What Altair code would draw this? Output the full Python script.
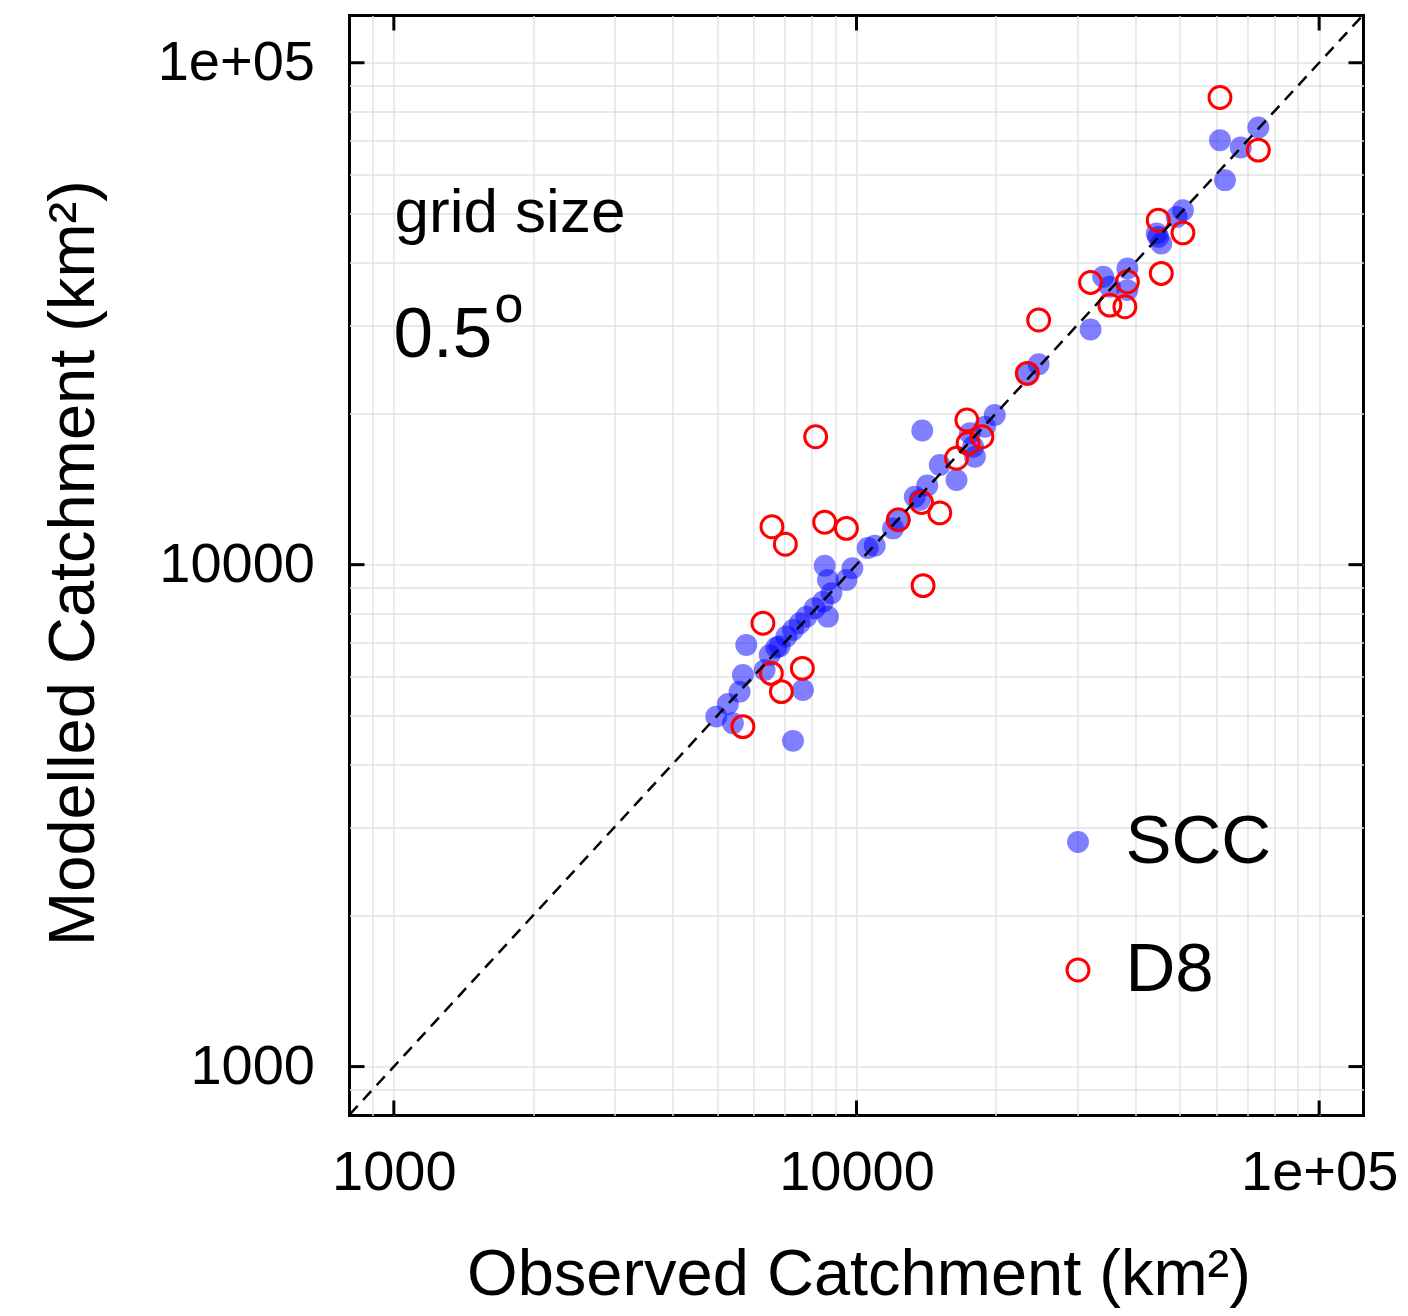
import altair as alt
import pandas as pd

# ---------------- data ----------------
scc_obs = [4977, 5406, 5273, 5589, 5682, 5778, 7290, 7661, 6331, 6491,
           6710, 6823, 7054, 7290, 7537, 7792, 8122, 8463, 8825, 8676,
           8535, 9797, 8676, 9510, 10950, 10573, 11995, 12400, 13362, 13700,
           14220, 15136, 16450, 18030, 17870, 17580, 18940, 19900, 13872, 23400,
           24760, 32060, 34140, 35290, 38510, 38510, 44550, 44900, 45580, 49200,
           50770, 62590, 61040, 67690, 73880]
scc_mod = [4981, 4832, 5279, 5585, 6031, 6919, 4456, 5629, 6171, 6610,
           6840, 6880, 7190, 7413, 7643, 7878, 8186, 8439, 8772, 7878,
           9954, 9836, 9322, 9322, 10910, 10797, 11810, 12290, 13660, 13450,
           14380, 15800, 14750, 16410, 17180, 18270, 18830, 19870, 18500, 23950,
           25080, 29420, 37460, 35780, 35240, 38930, 45700, 44980, 43650, 49300,
           50830, 58350, 70080, 67800, 74300]

d8_obs = [5682, 6277, 6546, 7638, 6881, 6566, 7019, 8161, 8535, 9510,
          13929, 12310, 13818, 15136, 16450, 17430, 18670, 17320, 23400, 24760,
          32060, 35290, 38030, 38510, 44900, 50770, 45580, 61040, 73880]
d8_mod = [4757, 7643, 6073, 6214, 5585, 11900, 10980, 17980, 12150, 11810,
          9083, 12290, 13300, 12680, 16290, 17440, 17980, 19420, 24050, 30720,
          36500, 32890, 32640, 36610, 48560, 45820, 38040, 85250, 66960]

series_names = ["SCC", "D8"]
decade_ticks = [1000, 10000, 100000]
grid_values = [900, 1000, 2000, 3000, 4000, 5000, 6000, 7000, 8000, 9000,
               10000, 20000, 30000, 40000, 50000, 60000, 70000, 80000, 90000, 100000]
x_domain = [802, 124700]
y_domain = [799, 124200]

FONT = "Liberation Sans"
W, H = 1014, 1100
TICK = 15

pts = pd.DataFrame({
    "series": ["SCC"] * len(scc_obs) + ["D8"] * len(d8_obs),
    "obs": scc_obs + d8_obs,
    "mod": scc_mod + d8_mod,
})
diag = pd.DataFrame({"obs": [x_domain[0], x_domain[1]],
                     "mod": [x_domain[0], x_domain[1]]})
ticks_x = pd.DataFrame({"obs": decade_ticks})
ticks_y = pd.DataFrame({"mod": decade_ticks})

xscale = alt.Scale(type="log", domain=x_domain, nice=False, zero=False)
yscale = alt.Scale(type="log", domain=y_domain, nice=False, zero=False)

label_expr = ("datum.value == 1000 ? '1000' : datum.value == 10000 ? '10000' : "
              "datum.value == 100000 ? '1e+05' : ''")

common_axis = dict(values=grid_values, labelExpr=label_expr, grid=True,
                   gridColor="#e2e2e2", gridWidth=1.4, ticks=False, tickSize=0,
                   domain=False, labelFont=FONT, labelFontSize=56,
                   labelColor="black", labelOverlap=False, labelFlush=False,
                   titleFont=FONT, titleFontSize=65, titleFontWeight="normal",
                   titleColor="black", titleBaseline="alphabetic",
                   titleAlign="center")

x_axis = alt.Axis(title="Observed Catchment (km²)", labelPadding=30,
                  titleX=W / 2 + 2, titleY=179, **common_axis)
y_axis = alt.Axis(title="Modelled Catchment (km²)", labelPadding=35,
                  titleAngle=270, titleX=-256, titleY=H / 2 - 3, **common_axis)

X = alt.X("obs:Q", scale=xscale, axis=x_axis)
Y = alt.Y("mod:Q", scale=yscale, axis=y_axis)

legend = alt.Legend(orient="none", legendX=694, legendY=792, title=None,
                    labelFont=FONT, labelFontSize=69, labelColor="black",
                    symbolType="circle", symbolSize=480, symbolStrokeWidth=3,
                    labelOffset=13, rowPadding=58, padding=0)

points = alt.Chart(pts).mark_point(filled=True, opacity=1, size=480,
                                   strokeWidth=3).encode(
    x=X, y=Y,
    fill=alt.Fill("series:N", scale=alt.Scale(domain=series_names,
                  range=["rgba(0,0,255,0.5)", "rgba(0,0,0,0)"]), legend=legend),
    stroke=alt.Stroke("series:N", scale=alt.Scale(domain=series_names,
                      range=["rgba(0,0,0,0)", "#ff0000"]), legend=legend),
    order=alt.Order("order_key:Q"),
).transform_calculate(order_key="datum.series == 'SCC' ? 0 : 1")

line = alt.Chart(diag).mark_line(color="black", strokeWidth=2.5,
                                 strokeDash=[12, 8], clip=True).encode(x=X, y=Y)

rule_style = dict(color="black", strokeWidth=3)
tick_bottom = alt.Chart(ticks_x).mark_rule(**rule_style).encode(
    x=X, y=alt.value(H), y2=alt.value(H - TICK))
tick_top = alt.Chart(ticks_x).mark_rule(**rule_style).encode(
    x=X, y=alt.value(0), y2=alt.value(TICK))
tick_left = alt.Chart(ticks_y).mark_rule(**rule_style).encode(
    y=Y, x=alt.value(0), x2=alt.value(TICK))
tick_right = alt.Chart(ticks_y).mark_rule(**rule_style).encode(
    y=Y, x=alt.value(W), x2=alt.value(W - TICK))

one = pd.DataFrame({"k": [0]})
txt_style = dict(font=FONT, color="black", align="left", baseline="alphabetic")
t_grid = alt.Chart(one).mark_text(text="grid size", fontSize=62, **txt_style).encode(
    x=alt.value(45), y=alt.value(216))
t_res = alt.Chart(one).mark_text(text="0.5", fontSize=71, **txt_style).encode(
    x=alt.value(44), y=alt.value(341))
t_deg = alt.Chart(one).mark_text(text="o", fontSize=52, **txt_style).encode(
    x=alt.value(145), y=alt.value(306))

chart = alt.layer(points, line, tick_bottom, tick_top, tick_left, tick_right,
                  t_grid, t_res, t_deg).properties(
    width=W, height=H,
    autosize=alt.AutoSizeParams(type="none"),
    padding={"left": 341.5, "top": 7.5, "right": 36, "bottom": 193},
    background="white",
).configure_view(stroke="black", strokeWidth=3)

chart.save("out.html", embed_options={"renderer": "svg", "actions": False})
